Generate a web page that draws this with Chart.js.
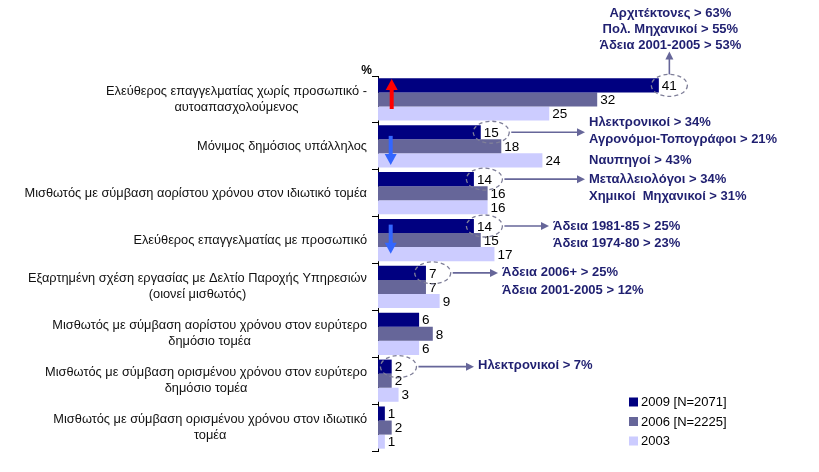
<!DOCTYPE html>
<html><head><meta charset="utf-8">
<script src="https://cdn.jsdelivr.net/npm/chart.js@4.4.1/dist/chart.umd.min.js"></script>
<style>html,body{margin:0;padding:0;background:#fff;}#wrap{width:819px;height:472px;position:relative;}</style>
</head><body><div id="wrap"><canvas id="c" width="819" height="472"></canvas></div>
<script>
const categories = [
  ['Ελεύθερος επαγγελματίας χωρίς προσωπικό -', 'αυτοαπασχολούμενος'],
  ['Μόνιμος δημόσιος υπάλληλος'],
  ['Μισθωτός με σύμβαση αορίστου χρόνου στον ιδιωτικό τομέα'],
  ['Ελεύθερος επαγγελματίας με προσωπικό'],
  ['Εξαρτημένη σχέση εργασίας με Δελτίο Παροχής Υπηρεσιών', '(οιονεί μισθωτός)'],
  ['Μισθωτός με σύμβαση αορίστου χρόνου στον ευρύτερο', 'δημόσιο τομέα'],
  ['Μισθωτός με σύμβαση ορισμένου χρόνου στον ευρύτερο', 'δημόσιο τομέα'],
  ['Μισθωτός με σύμβαση ορισμένου χρόνου στον ιδιωτικό', 'τομέα']
];
const seriesLabels = ['2009 [N=2071]', '2006 [N=2225]', '2003'];
const values2009 = [41, 15, 14, 14, 7, 6, 2, 1];
const values2006 = [32, 18, 16, 15, 7, 8, 2, 2];
const values2003 = [25, 24, 16, 17, 9, 6, 3, 1];
const seriesColors = ['#000080', '#666699', '#CCCCFF'];

// annotations: category index -> lines of text (attached to the 2009 value)
const callouts = [
  {cat: 0, dir: 'up', lines: ['Αρχιτέκτονες > 63%', 'Πολ. Μηχανικοί > 55%', 'Άδεια 2001-2005 > 53%']},
  {cat: 1, dir: 'right', textX: 589, dy: -10, lines: ['Ηλεκτρονικοί > 34%', 'Αγρονόμοι-Τοπογράφοι > 21%']},
  {cat: 2, dir: 'right', textX: 589, dy: 0, lines: ['Μεταλλειολόγοι > 34%', 'Χημικοί  Μηχανικοί > 31%'], above: 'Ναυπηγοί > 43%'},
  {cat: 3, dir: 'right', textX: 553, dy: 0, lines: ['Άδεια 1981-85 > 25%', 'Άδεια 1974-80 > 23%']},
  {cat: 4, dir: 'right', textX: 502, dy: 0, lines: ['Άδεια 2006+ > 25%', 'Άδεια 2001-2005 > 12%']},
  {cat: 6, dir: 'right', textX: 478, dy: -1, lines: ['Ηλεκτρονικοί > 7%']}
];
// trend arrows: category, direction, colour
const trendArrows = [
  {cat: 0, dir: 'up', color: '#FF0000'},
  {cat: 1, dir: 'down', color: '#3366FF'},
  {cat: 3, dir: 'down', color: '#3366FF'}
];

const FONT = '"Liberation Sans", Arial, sans-serif';
const VALUE_FONT = '13.5px ' + FONT;
const NOTE_FONT = 'bold 13px ' + FONT;

function arrowHead(ctx, x, y, dx, dy, len, half) {
  ctx.beginPath();
  ctx.moveTo(x, y);
  ctx.lineTo(x - dx * len - dy * half, y - dy * len + dx * half);
  ctx.lineTo(x - dx * len + dy * half, y - dy * len - dx * half);
  ctx.closePath();
  ctx.fill();
}

const labelPlugin = {
  id: 'labels',
  afterDatasetsDraw(chart) {
    const ctx = chart.ctx;
    ctx.save();
    ctx.font = VALUE_FONT;
    ctx.fillStyle = '#000';
    ctx.textBaseline = 'middle';
    ctx.textAlign = 'left';
    chart.data.datasets.forEach((ds, di) => {
      const meta = chart.getDatasetMeta(di);
      meta.data.forEach((bar, i) => {
        ctx.fillText(String(ds.data[i]), bar.x + 3, bar.y + 1);
      });
    });
    // category labels (centred lines, block right-aligned)
    const ys = chart.scales.y;
    ctx.font = '12.8px ' + FONT;
    ctx.fillStyle = '#111';
    ctx.textAlign = 'center';
    const right = chart.chartArea.left - 11;
    categories.forEach((lines, i) => {
      const cy = ys.getPixelForValue(i);
      let w = 0;
      lines.forEach(l => { w = Math.max(w, ctx.measureText(l).width); });
      const lh = 16;
      const y0 = cy - (lines.length - 1) * lh / 2;
      lines.forEach((l, k) => ctx.fillText(l, right - w / 2, y0 + k * lh));
    });
    // % label
    ctx.font = 'bold 12px ' + FONT;
    ctx.fillStyle = '#000';
    ctx.textAlign = 'right';
    ctx.fillText('%', chart.chartArea.left - 6, chart.chartArea.top - 5);
    ctx.restore();
  }
};

const annotPlugin = {
  id: 'annots',
  afterDraw(chart) {
    const ctx = chart.ctx;
    const meta = chart.getDatasetMeta(0);
    const ys = chart.scales.y;
    const xs = chart.scales.x;
    ctx.save();
    ctx.font = VALUE_FONT;
    callouts.forEach(c => {
      const bar = meta.data[c.cat];
      const tw = ctx.measureText(String(values2009[c.cat])).width;
      const cx = bar.x + 3 + tw / 2;
      const cy = bar.y;
      const rx = 18, ry = 11;
      ctx.strokeStyle = '#7F7F99';
      ctx.lineWidth = 1.3;
      ctx.setLineDash([4, 3]);
      ctx.beginPath();
      ctx.ellipse(cx, cy, rx, ry, 0, 0, Math.PI * 2);
      ctx.stroke();
      ctx.setLineDash([]);
      ctx.strokeStyle = '#666699';
      ctx.fillStyle = '#666699';
      ctx.lineWidth = 1.6;
      ctx.font = NOTE_FONT;
      if (c.dir === 'up') {
        const tipY = cy - ry - 23;
        ctx.beginPath();
        ctx.moveTo(cx, cy - ry);
        ctx.lineTo(cx, tipY + 6);
        ctx.stroke();
        arrowHead(ctx, cx, tipY, 0, -1, 8, 4);
        ctx.fillStyle = '#1F1F70';
        ctx.textAlign = 'center';
        ctx.textBaseline = 'middle';
        const n = c.lines.length;
        c.lines.forEach((l, k) => ctx.fillText(l, cx + 1, tipY - 6 - (n - 1 - k) * 16));
      } else {
        const tipX = c.textX - 4;
        ctx.beginPath();
        ctx.moveTo(cx + rx + 2, cy);
        ctx.lineTo(tipX - 6, cy);
        ctx.stroke();
        arrowHead(ctx, tipX, cy, 1, 0, 8, 4);
        ctx.fillStyle = '#1F1F70';
        ctx.textAlign = 'left';
        ctx.textBaseline = 'middle';
        c.lines.forEach((l, k) => ctx.fillText(l, c.textX, cy + c.dy + k * 17.5));
        if (c.above) ctx.fillText(c.above, c.textX, cy - 19);
      }
      ctx.font = VALUE_FONT;
    });
    // trend arrows
    const band = ys.getPixelForValue(1) - ys.getPixelForValue(0);
    trendArrows.forEach(a => {
      const top = ys.getPixelForValue(a.cat) - band / 2;
      const x = xs.getPixelForValue(2) - (a.dir === 'up' ? 0 : 1);
      ctx.fillStyle = a.color;
      ctx.strokeStyle = a.color;
      ctx.lineWidth = 4;
      let y1, y2;
      if (a.dir === 'up') { y1 = top + 33; y2 = top + 3; }
      else { y1 = (a.cat === 1 ? top + 13 : top + 8); y2 = y1 + 29; }
      const d = a.dir === 'up' ? -1 : 1;
      ctx.beginPath();
      ctx.moveTo(x, y1);
      ctx.lineTo(x, y2 - d * 9);
      ctx.stroke();
      arrowHead(ctx, x, y2, 0, d, 11, 6);
    });
    // legend
    ctx.font = '13px ' + FONT;
    ctx.textAlign = 'left';
    ctx.textBaseline = 'middle';
    chart.data.datasets.forEach((ds, i) => {
      const y = 402 + i * 19.5;
      ctx.fillStyle = ds.backgroundColor;
      ctx.fillRect(629, y - 4.5, 9, 9);
      ctx.fillStyle = '#000';
      ctx.fillText(ds.label, 641, y + 0.5);
    });
    ctx.restore();
  }
};

new Chart(document.getElementById('c'), {
  type: 'bar',
  data: {
    labels: categories,
    datasets: [
      {label: seriesLabels[0], data: values2009, backgroundColor: seriesColors[0]},
      {label: seriesLabels[1], data: values2006, backgroundColor: seriesColors[1]},
      {label: seriesLabels[2], data: values2003, backgroundColor: seriesColors[2]}
    ]
  },
  options: {
    indexAxis: 'y',
    responsive: false,
    animation: false,
    devicePixelRatio: 1,
    layout: {padding: {left: 0, right: 30, top: 76, bottom: 21}},
    datasets: {bar: {categoryPercentage: 0.9, barPercentage: 1.0, borderWidth: 0}},
    scales: {
      x: {display: false, min: 0, max: 60},
      y: {
        grid: {drawOnChartArea: false, drawTicks: true, tickLength: 6, color: '#000', offset: true},
        border: {display: true, color: '#000', width: 1},
        ticks: {display: false},
        afterFit(scale) { scale.width = 378; }
      }
    },
    plugins: {legend: {display: false}, tooltip: {enabled: false}}
  },
  plugins: [labelPlugin, annotPlugin]
});
</script>
</body></html>
